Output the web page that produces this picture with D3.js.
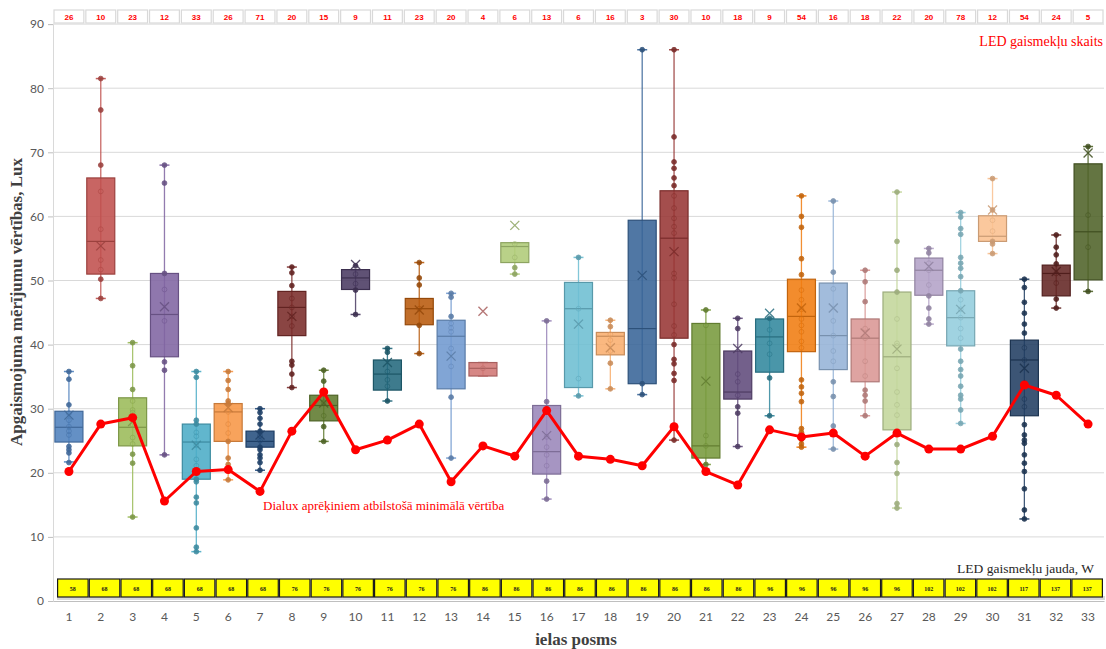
<!DOCTYPE html>
<html>
<head>
<meta charset="utf-8">
<script src="https://cdn.jsdelivr.net/npm/d3@7"></script>
<style>
  html, body { margin: 0; padding: 0; background: #fff; }
  svg { display: block; }
</style>
</head>
<body>
<svg id="chart" width="1106" height="649"></svg>
<script>
// Street segments
const categories = ["1","2","3","4","5","6","7","8","9","10","11","12","13","14","15","16","17",
  "18","19","20","21","22","23","24","25","26","27","28","29","30","31","32","33"];

// Number of LED luminaires per segment
const ledCount = [26,10,23,12,33,26,71,20,15,9,11,23,20,4,6,13,6,16,3,30,10,18,9,54,16,18,22,20,78,12,54,24,5];

// LED luminaire power, W
const ledPower = [58,68,68,68,68,68,68,76,76,76,76,76,76,86,86,86,86,86,86,86,86,86,96,96,96,96,96,102,102,102,117,137,137];

// Minimum value according to Dialux calculations, lx
const dialuxMin = [20.2,27.6,28.6,15.6,20.2,20.5,17.1,26.5,32.6,23.6,25.1,27.6,18.6,24.2,22.6,29.7,22.6,
  22.1,21.1,27.2,20.2,18.1,26.7,25.6,26.2,22.6,26.2,23.7,23.7,25.7,33.7,32.1,27.6];

// Box plot statistics of measured illuminance, lx
const whiskerLow  = [21.7,47.2,13.1,22.8,7.7,18.9,20.4,33.3,24.9,44.7,31.2,38.6,22.3,35.1,51.0,15.9,32.0,
  33.1,32.2,25.1,21.3,24.1,28.9,24.0,23.7,28.9,14.5,43.2,27.7,54.2,12.8,45.7,48.3];
const quartile1   = [24.8,51.0,24.2,38.1,19.0,24.9,24.0,41.4,28.1,48.6,32.9,43.1,33.1,35.1,52.8,19.8,33.3,
  38.4,33.9,41.0,22.3,31.5,35.7,38.9,36.1,34.2,26.7,47.7,39.8,56.1,28.9,47.6,50.1];
const medianVal   = [27.1,56.1,27.1,44.7,24.8,29.5,24.9,45.8,30.5,50.4,35.4,45.6,41.3,36.3,55.3,23.3,45.6,
  41.3,42.5,56.6,24.2,32.6,41.2,44.4,41.4,41.0,38.1,51.6,44.2,56.9,37.6,51.1,57.6];
const quartile3   = [29.6,66.0,31.7,51.1,27.6,30.8,26.5,48.3,32.1,51.7,37.6,47.2,43.8,37.2,55.9,30.5,49.7,
  41.9,59.4,64.0,43.3,39.0,44.0,50.2,49.6,44.0,48.2,53.5,48.4,60.1,40.7,52.4,68.2];
const whiskerHigh = [35.8,81.5,40.3,68.0,35.8,35.8,30.0,52.1,36.0,51.7,39.4,52.8,48.0,37.2,55.9,43.7,53.6,
  43.8,86.0,86.0,45.4,44.1,44.1,63.2,62.4,51.6,63.8,55.0,60.6,65.9,50.2,57.1,70.9];
const meanVal     = [29.0,55.4,28.0,45.9,24.3,30.2,25.9,44.4,30.9,52.5,37.2,45.4,38.2,45.2,58.6,25.8,43.2,
  39.5,50.8,54.5,34.3,39.4,44.9,45.7,45.7,41.8,39.3,52.2,45.5,61.0,36.3,51.4,69.9];

// Individual measurements per segment, lx
const measurements = [
  [35.8,34.6,30.6,29.3,28.2,27.2,26.5,25.9,24.1,23.6,23.1,21.6],
  [81.5,76.6,68.0,63.9,58.0,53.2,51.7,50.2,47.2],
  [40.3,36.7,33.0,31.2,29.8,29.4,27.5,25.5,24.5,22.9,21.5,13.1],
  [68.0,65.2,51.1,48.6,43.7,37.3,36.0,22.8],
  [35.8,34.9,28.2,27.6,26.3,25.7,24.3,22.1,21.1,19.0,18.6,16.2,15.3,11.4,8.4,7.7],
  [35.8,34.4,33.0,31.2,30.8,29.5,27.6,26.2,24.9,22.3,21.3,18.9],
  [30.0,29.4,28.5,27.6,26.5,25.8,25.0,24.0,23.6,22.8,22.3,21.6,20.4],
  [52.1,51.2,49.2,47.2,45.8,44.4,42.9,37.4,36.8,35.4,33.3],
  [36.0,34.3,31.0,28.9,27.2,24.9],
  [52.3,51.0,49.5,48.5,44.7],
  [39.4,38.8,35.8,34.5,33.5,31.2],
  [52.8,50.4,49.3,45.6,43.0,38.6],
  [48.0,47.4,44.4,43.3,42.6,42.0,39.4,36.6,31.8,22.3],
  [36.3],
  [55.7,53.6,52.0,51.0],
  [43.7,31.1,25.6,24.0,22.8,21.1,18.7,15.9],
  [53.6,45.6,34.7,32.0],
  [43.8,42.8,41.6,40.7,39.0,37.1,33.1],
  [86.0,33.9,32.2],
  [86.0,72.4,68.5,67.5,66.0,64.8,63.2,61.3,59.7,58.4,57.4,51.1,50.4,46.3,42.9,41.5,40.0,37.7,37.0,35.5,34.4,25.1],
  [45.4,43.0,25.8,24.2,21.3],
  [44.1,42.5,35.4,34.2,32.1,30.3,29.3,24.1],
  [44.1,42.3,40.2,38.5,34.8,28.9],
  [63.2,60.0,58.3,53.4,50.9,48.5,47.0,45.5,44.0,43.0,42.0,40.5,39.5,34.5,33.4,32.4,31.1,26.9,26.3,25.2,24.5,24.0],
  [62.4,51.3,48.7,43.7,41.4,39.0,37.4,34.2,31.9,27.3,23.7],
  [51.6,49.8,46.7,42.5,41.0,37.4,35.1,32.9,32.1,31.2,28.9],
  [63.8,56.1,51.6,48.2,44.0,40.2,39.8,36.3,32.6,30.6,29.0,24.4,21.6,19.9,15.2,14.5],
  [55.0,54.3,52.7,51.6,49.3,47.6,45.7,44.0,43.2],
  [60.6,59.9,58.1,57.2,53.6,52.7,51.9,50.6,48.4,47.0,45.5,44.2,42.5,41.0,39.3,37.4,36.1,35.1,33.5,32.1,31.5,29.8,27.7],
  [65.9,61.0,59.4,57.7,56.1,55.7,54.2],
  [50.2,48.9,46.6,44.9,43.2,41.8,39.5,37.6,34.0,31.5,30.3,27.5,25.9,25.1,24.6,22.8,21.5,20.2,17.5,14.2,12.8],
  [57.1,55.2,54.0,52.6,51.1,49.6,47.1,45.7],
  [70.9,60.2,55.2,48.3]
];

const yTicks = [0,10,20,30,40,50,60,70,80,90];

// Series palette
const palette = ["#4F81BD","#C0504D","#9BBB59","#8064A2","#4BACC6","#F79646","#254E7E","#7A2B29",
  "#5F7A2E","#4A3A62","#23697D","#B85A0C","#7099CF","#D07674","#AFCB78","#9A86B9","#6DBED2",
  "#F9AE6E","#386497","#973634","#789A3C","#604A7B","#31879D","#F07C10","#95B3D7","#D99694",
  "#C3D69B","#B3A2C7","#93CDDD","#FAC090","#213E62","#632523","#4F6228"];

const svg = d3.select("#chart");

const x = d3.scaleBand().domain(categories).range([53, 1104]).padding(0);
const y = d3.scaleLinear().domain([0, 90]).range([601, 24.1]);
const cx = c => x(c) + x.bandwidth() / 2;
// table row under the plot sits slightly to the right of the category bands
const xRow = d3.scaleBand().domain(categories).range([57, 1103]).padding(0);

// Grid lines
svg.append("g")
  .selectAll("line")
  .data(yTicks.filter(t => t > 0))
  .join("line")
  .attr("x1", 53).attr("x2", 1104)
  .attr("y1", d => y(d)).attr("y2", d => y(d))
  .attr("stroke", "#d9d9d9").attr("stroke-width", 1);

// Y axis
const yAxis = svg.append("g")
  .attr("transform", "translate(53,0)")
  .call(d3.axisLeft(y).tickValues(yTicks).tickSize(5).tickPadding(4));
yAxis.select(".domain").attr("stroke", "#d9d9d9");
yAxis.selectAll(".tick line").attr("stroke", "#bfbfbf");
yAxis.selectAll("text").attr("fill", "#595959").style("font", "12px Lato, 'Open Sans', sans-serif");

// X axis
const xAxis = svg.append("g")
  .attr("transform", "translate(0,601)")
  .call(d3.axisBottom(x).tickSize(0).tickPadding(11));
xAxis.select(".domain").attr("stroke", "#bfbfbf");
xAxis.selectAll("text").attr("fill", "#595959").style("font", "12px Lato, 'Open Sans', sans-serif");

// Box plots
const boxW = 28, capW = 10;
const boxes = svg.append("g");
categories.forEach((c, i) => {
  const col = d3.color(palette[i]);
  const dark = col.darker(0.6).formatHex();
  const g = boxes.append("g");
  const xc = cx(c);
  // whisker
  g.append("line")
    .attr("x1", xc).attr("x2", xc)
    .attr("y1", y(whiskerHigh[i])).attr("y2", y(whiskerLow[i]))
    .attr("stroke", palette[i]).attr("stroke-width", 1.3).attr("opacity", 0.85);
  [whiskerHigh[i], whiskerLow[i]].forEach(v => {
    g.append("line")
      .attr("x1", xc - capW / 2).attr("x2", xc + capW / 2)
      .attr("y1", y(v)).attr("y2", y(v))
      .attr("stroke", palette[i]).attr("stroke-width", 1.5).attr("opacity", 0.9);
  });
  // box
  g.append("rect")
    .attr("x", xc - boxW / 2).attr("width", boxW)
    .attr("y", y(quartile3[i]))
    .attr("height", Math.max(1, y(quartile1[i]) - y(quartile3[i])))
    .attr("fill", palette[i]).attr("fill-opacity", 0.88)
    .attr("stroke", dark).attr("stroke-width", 1.2);
  // median
  g.append("line")
    .attr("x1", xc - boxW / 2).attr("x2", xc + boxW / 2)
    .attr("y1", y(medianVal[i])).attr("y2", y(medianVal[i]))
    .attr("stroke", dark).attr("stroke-width", 1.2);
  // measurement points
  measurements[i].forEach(v => {
    const inside = v > quartile1[i] && v < quartile3[i];
    g.append("circle")
      .attr("cx", xc).attr("cy", y(v)).attr("r", 2.4)
      .attr("fill", inside ? "none" : dark)
      .attr("stroke", inside ? col.darker(0.3).formatHex() : dark)
      .attr("stroke-width", 0.9)
      .attr("opacity", inside ? 0.7 : 0.9);
  });
  // mean marker
  const my = y(meanVal[i]), s = 4.5;
  g.append("path")
    .attr("d", `M${xc - s},${my - s}L${xc + s},${my + s}M${xc - s},${my + s}L${xc + s},${my - s}`)
    .attr("stroke", dark).attr("stroke-width", 1.3).attr("fill", "none").attr("opacity", 0.85);
});

// Dialux minimum line
const line = d3.line().x((d, i) => cx(categories[i])).y(d => y(d));
svg.append("path")
  .datum(dialuxMin)
  .attr("d", line)
  .attr("fill", "none").attr("stroke", "#FF0000").attr("stroke-width", 3)
  .attr("stroke-linejoin", "round");
svg.append("g")
  .selectAll("circle")
  .data(dialuxMin)
  .join("circle")
  .attr("cx", (d, i) => cx(categories[i])).attr("cy", d => y(d))
  .attr("r", 4.5).attr("fill", "#FF0000");

// Luminaire count row
const countRow = svg.append("g");
countRow.selectAll("rect")
  .data(ledCount)
  .join("rect")
  .attr("x", (d, i) => x(categories[i]) + 1).attr("width", x.bandwidth() - 2)
  .attr("y", 10).attr("height", 13)
  .attr("fill", "#fff").attr("stroke", "#d9d9d9").attr("stroke-width", 1.2);
countRow.selectAll("text")
  .data(ledCount)
  .join("text")
  .attr("x", (d, i) => cx(categories[i])).attr("y", 19.5)
  .attr("text-anchor", "middle")
  .attr("fill", "#FF0000")
  .style("font", "bold 8px 'Liberation Sans', Arial, sans-serif")
  .text(d => d);

// Luminaire power row
const powerRow = svg.append("g");
powerRow.append("rect")
  .attr("x", 57).attr("width", 1048).attr("y", 596).attr("height", 4)
  .attr("fill", "#d9d9d9");
powerRow.selectAll("rect.cell")
  .data(ledPower)
  .join("rect")
  .attr("class", "cell")
  .attr("x", (d, i) => xRow(categories[i]) + 0.6).attr("width", xRow.bandwidth() - 1.2)
  .attr("y", 579).attr("height", 18)
  .attr("fill", "#FFFF00").attr("stroke", "#1a1a1a").attr("stroke-width", 1.2);
powerRow.selectAll("text")
  .data(ledPower)
  .join("text")
  .attr("x", (d, i) => xRow(categories[i]) + xRow.bandwidth() / 2).attr("y", 590.5)
  .attr("text-anchor", "middle")
  .attr("fill", "#1a1a1a")
  .style("font", "bold 6px 'Liberation Serif', serif")
  .text(d => d);

// Annotations
svg.append("text")
  .attr("x", 1103).attr("y", 46)
  .attr("text-anchor", "end").attr("fill", "#FF0000")
  .style("font", "14px 'Liberation Serif', 'Times New Roman', serif")
  .text("LED gaismekļu skaits");
svg.append("text")
  .attr("x", 1094).attr("y", 573)
  .attr("text-anchor", "end").attr("fill", "#262626")
  .style("font", "13.5px 'Liberation Serif', 'Times New Roman', serif")
  .text("LED gaismekļu jauda, W");
svg.append("text")
  .attr("x", 263).attr("y", 510)
  .attr("fill", "#FF0000")
  .style("font", "13px 'Liberation Serif', 'Times New Roman', serif")
  .text("Dialux aprēķiniem atbilstošā minimālā vērtība");

// Axis titles
svg.append("text")
  .attr("transform", "translate(22,302) rotate(-90)")
  .attr("text-anchor", "middle").attr("fill", "#404040")
  .style("font", "bold 17px 'Liberation Serif', 'Times New Roman', serif")
  .text("Apgaismojuma mērījumu vērtības, Lux");
svg.append("text")
  .attr("x", 576).attr("y", 645)
  .attr("text-anchor", "middle").attr("fill", "#404040")
  .style("font", "bold 17px 'Liberation Serif', 'Times New Roman', serif")
  .text("ielas posms");
</script>
</body>
</html>
